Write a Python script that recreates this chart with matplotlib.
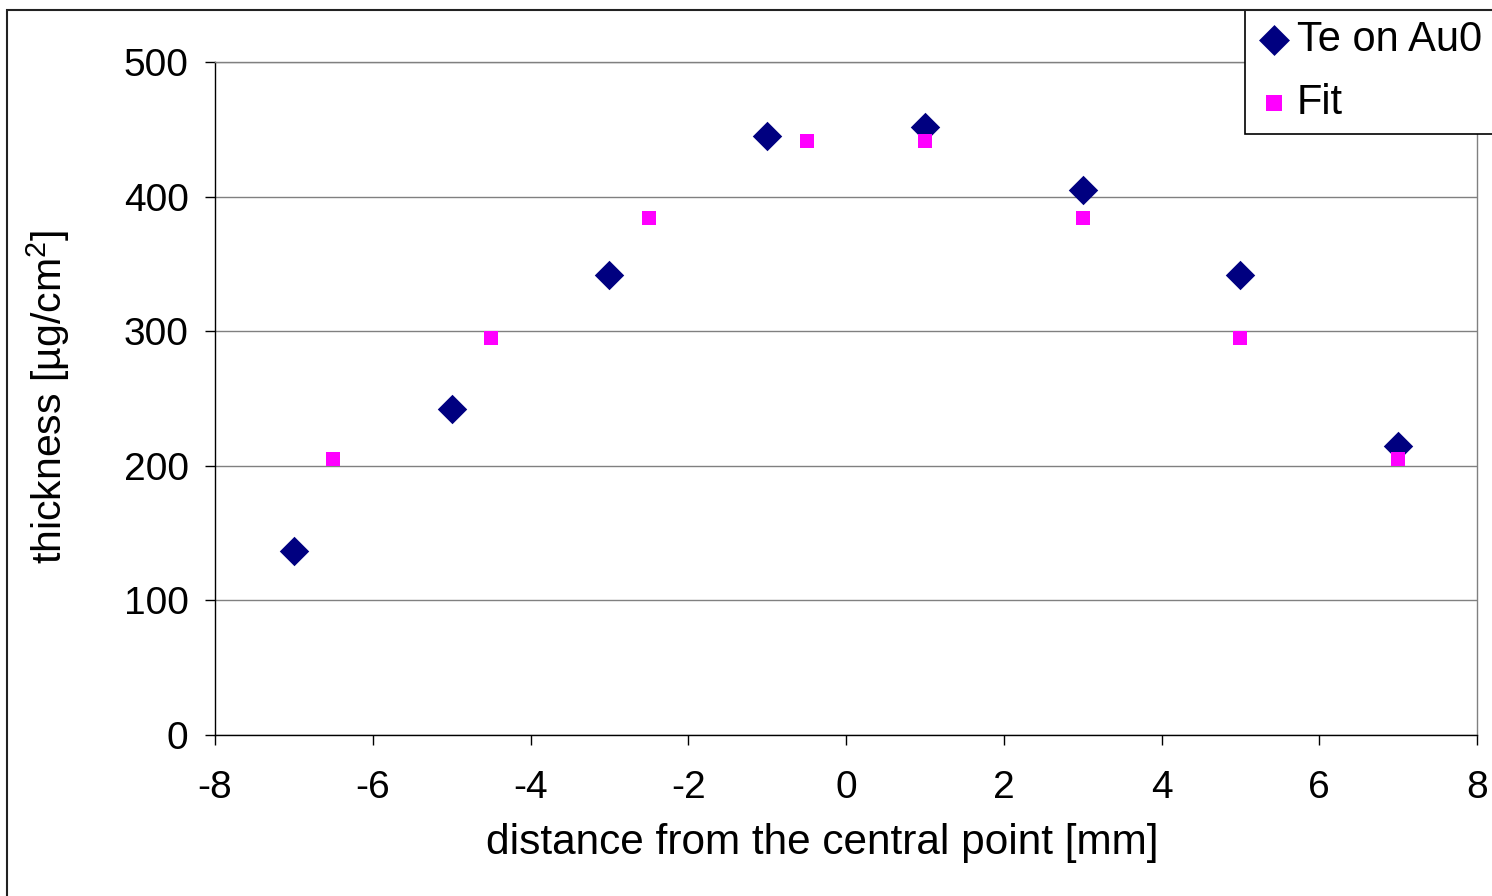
import matplotlib
matplotlib.use('Agg')
import matplotlib.pyplot as plt
import matplotlib.patches as mpatches

plt.rcParams['font.family'] = ['Liberation Sans', 'DejaVu Sans']
plt.rcParams['mathtext.fontset'] = 'custom'
plt.rcParams['mathtext.rm'] = 'Liberation Sans'

# data
te_x = [-7, -5, -3, -1, 1, 3, 5, 7]
te_y = [137, 242, 342, 445, 452, 405, 342, 215]
fit_x = [-6.5, -4.5, -2.5, -0.5, 1, 3, 5, 7]
fit_y = [205, 295, 384, 441, 441, 384, 295, 205]

xticks = [-8, -6, -4, -2, 0, 2, 4, 6, 8]
yticks = [0, 100, 200, 300, 400, 500]

fig = plt.figure(figsize=(14.92, 8.96), dpi=100)
ax = fig.add_axes([215/1492, 1 - 735/896, (1477-215)/1492, (735-62)/896])

# outer chart border (clipped at right and bottom like the original)
border = mpatches.Rectangle((7/1492, -0.1), 1.2, 1 - 10/896 + 0.1,
                            transform=fig.transFigure, fill=False,
                            edgecolor='#222222', linewidth=1.5)
fig.patches.append(border)

ax.scatter(te_x, te_y, marker='D', s=15**2, color='#000080', zorder=3,
           label='Te on Au0', linewidths=0)
ax.scatter(fit_x, fit_y, marker='s', s=10.5**2, color='#FF00FF', zorder=3,
           label='Fit', linewidths=0)

ax.set_xlim(-8, 8)
ax.set_ylim(0, 500)
ax.set_xticks(xticks)
ax.set_yticks(yticks)
ax.set_xticklabels([str(t) for t in xticks])
ax.yaxis.grid(True, color='#808080', linewidth=1)
ax.set_axisbelow(True)

for side in ['top', 'right']:
    ax.spines[side].set_color('#808080')
    ax.spines[side].set_linewidth(1)
for side in ['left', 'bottom']:
    ax.spines[side].set_color('black')
    ax.spines[side].set_linewidth(1)

ax.tick_params(axis='both', direction='out', length=7, width=1,
               labelsize=28, colors='black')
ax.tick_params(axis='x', pad=18)
ax.tick_params(axis='y', pad=12)

ax.set_xlabel('distance from the central point [mm]', fontsize=30.5)
ax.xaxis.set_label_coords((822 - 215) / (1477 - 215), -(843 - 735) / (735 - 62))
ax.xaxis.label.set_va('center')
ax.set_ylabel(r'thickness [µg/cm$^2$]', fontsize=29.5)
ax.yaxis.set_label_coords(-(215 - 48) / (1477 - 215), (735 - 397) / (735 - 62))
ax.yaxis.label.set_va('center')

leg = ax.legend(loc='upper left', bbox_to_anchor=(1245/1492, 1 - 10/896),
                bbox_transform=fig.transFigure, fontsize=30, frameon=True,
                fancybox=False, edgecolor='black', framealpha=1,
                borderpad=0.25, handletextpad=0.1, labelspacing=0.55,
                borderaxespad=0, handlelength=0.9, handleheight=0.7,
                markerscale=1.05)
leg.get_frame().set_linewidth(1.2)

fig.savefig('out.png', dpi=100)
